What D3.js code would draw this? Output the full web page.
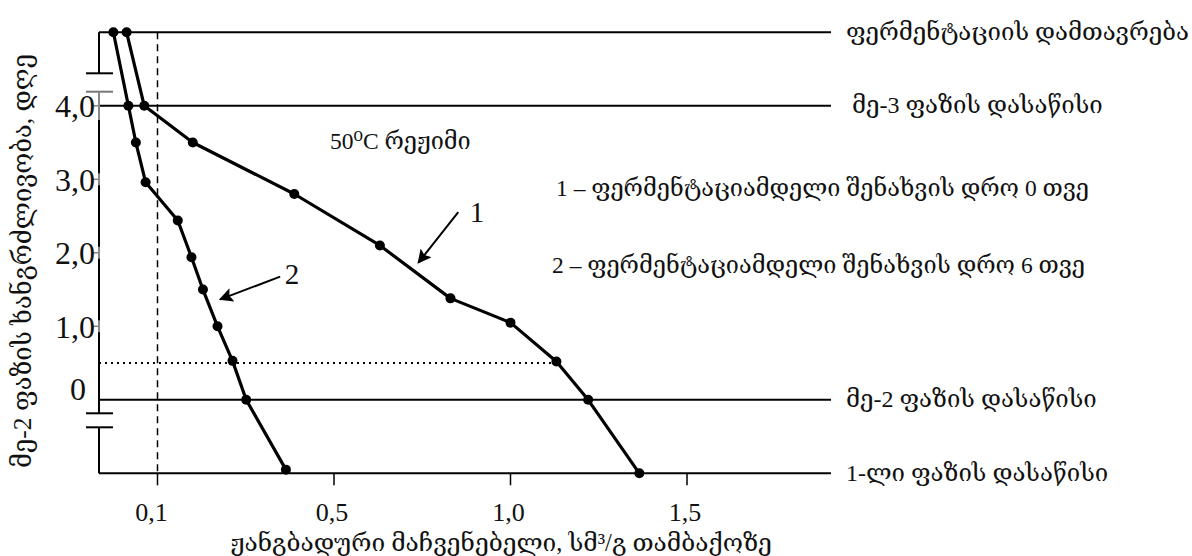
<!DOCTYPE html>
<html><head><meta charset="utf-8">
<script src="https://cdn.jsdelivr.net/npm/d3@7"></script>
<style>
html,body{margin:0;padding:0;background:#fff;}
text{font-family:"Liberation Serif","DejaVu Serif",serif;fill:#111;}
</style></head>
<body>
<svg id="c" width="1192" height="556"></svg>
<script>
// ---- data ----
const xTickValues = [0.1, 0.5, 1.0, 1.5];
const xTickLabels = ["0,1", "0,5", "1,0", "1,5"];
const yTickValues = [4, 3, 2, 1, 0];
const yTickLabels = ["4,0", "3,0", "2,0", "1,0", "0"];

const series1X = [0.03, 0.07, 0.18, 0.41, 0.63, 0.83, 1.0, 1.13, 1.22, 1.365];
const series1Y = [5, 4, 3.5, 2.8, 2.1, 1.38, 1.05, 0.52, 0, -1];
const series2X = [0.0, 0.034, 0.051, 0.073, 0.146, 0.177, 0.203, 0.236, 0.27, 0.301, 0.391];
const series2Y = [5, 4, 3.5, 2.96, 2.44, 1.94, 1.5, 1.0, 0.53, 0, -0.95];

const phaseLevels = [5, 4, 0, -1];
const phaseLabels = ["ფერმენტაციის დამთავრება", "მე-3 ფაზის დასაწისი", "მე-2 ფაზის დასაწისი", "1-ლი ფაზის დასაწისი"];

const refX = 0.1;      // dashed vertical
const refY = 0.5;      // dotted horizontal
const refYEndX = 1.13;

const xTitle = "ჟანგბადური მაჩვენებელი, სმ³/გ თამბაქოზე";
const yTitle = "მე-2 ფაზის ხანგრძლივობა, დღე";
const regimeText = "50⁰C რეჟიმი";
const legendTexts = ["1 –  ფერმენტაციამდელი შენახვის დრო 0 თვე", "2 –  ფერმენტაციამდელი შენახვის დრო 6 თვე"];

(function(){
// ---- layout ----
const svg = d3.select("#c");
const pL = 99, pR = 831, pT = 32.3, pB = 473.3;
const step = 176.5, x0 = 157.5;
const x = d3.scaleLinear().domain(xTickValues).range(xTickValues.map((d,i)=>x0+i*step));
const y = d3.scaleLinear().domain([-1, 5]).range([pB, pT]);

// phase lines
phaseLevels.forEach((lv,i)=>{
  svg.append("line").attr("x1",pL).attr("x2",pR).attr("y1",y(lv)).attr("y2",y(lv))
    .attr("stroke","#000").attr("stroke-width",2);
  svg.append("text").attr("x", i===1 ? 852 : 846).attr("y",y(lv)).attr("dy","0.3em")
    .attr("font-size",24).text(phaseLabels[i]);
});

// broken y axis
const axisSegs = [[pT, 73.3],[91.7, 413.3],[427.3, pB]];
axisSegs.forEach(s=>{
  svg.append("line").attr("x1",pL).attr("x2",pL).attr("y1",s[0]).attr("y2",s[1])
    .attr("stroke","#000").attr("stroke-width",2);
});
[73.3, 91.7, 413.3, 427.3].forEach((yy,i)=>{
  svg.append("line").attr("x1",86).attr("x2",113).attr("y1",yy).attr("y2",yy)
    .attr("stroke", i===1 ? "#777" : "#000").attr("stroke-width",2);
});
svg.append("line").attr("x1",pL).attr("x2",pL).attr("y1",91.7).attr("y2",120)
  .attr("stroke","#888").attr("stroke-width",2);
yTickValues.slice(0,4).forEach(v=>{
  svg.append("line").attr("x1",pL).attr("x2",pL).attr("y1",y(v)-6).attr("y2",y(v)+6)
    .attr("stroke","#888").attr("stroke-width",2);
  svg.append("line").attr("x1",93).attr("x2",pL).attr("y1",y(v)).attr("y2",y(v))
    .attr("stroke","#888").attr("stroke-width",1.5);
});
yTickValues.forEach((v,i)=>{
  svg.append("text").attr("x", v===0 ? 86 : 95).attr("y", v===0 ? y(v)-11 : y(v))
    .attr("dy","0.35em").attr("text-anchor","end").attr("font-size",32).text(yTickLabels[i]);
});

// x ticks
xTickValues.forEach((v,i)=>{
  svg.append("line").attr("x1",x(v)).attr("x2",x(v)).attr("y1",pB).attr("y2",pB+12)
    .attr("stroke","#000").attr("stroke-width",1.5);
  svg.append("text").attr("x",x(v)-(i===0?6:2)).attr("y",521).attr("text-anchor","middle")
    .attr("font-size",26).text(xTickLabels[i]);
});

// reference lines
svg.append("line").attr("x1",x(refX)).attr("x2",x(refX)).attr("y1",pT).attr("y2",pB)
  .attr("stroke","#000").attr("stroke-width",1.5).attr("stroke-dasharray","7,5");
svg.append("line").attr("x1",pL).attr("x2",x(refYEndX)).attr("y1",y(refY)).attr("y2",y(refY))
  .attr("stroke","#000").attr("stroke-width",2).attr("stroke-dasharray","2,4");

// series
const line = d3.line().x(d=>x(d[0])).y(d=>y(d[1]));
[[series1X,series1Y],[series2X,series2Y]].forEach(([xs,ys])=>{
  const pts = xs.map((v,i)=>[v, ys[i]]);
  svg.append("path").attr("d",line(pts)).attr("fill","none").attr("stroke","#000")
    .attr("stroke-width",3.2).attr("stroke-linejoin","round");
  svg.selectAll(null).data(pts).enter().append("circle")
    .attr("cx",d=>x(d[0])).attr("cy",d=>y(d[1])).attr("r",5).attr("fill","#000");
});

// arrows
const defs = svg.append("defs");
defs.append("marker").attr("id","ah").attr("viewBox","0 0 10 10").attr("refX",9).attr("refY",5)
  .attr("markerWidth",18).attr("markerHeight",14).attr("orient","auto").attr("markerUnits","userSpaceOnUse")
  .append("path").attr("d","M0,0 L10,5 L0,10 L2,5 z").attr("fill","#000");
const arrows = [
  {from:[0.852,2.555], to:[0.739,1.865], label:"1", lab:[0.905,2.42]},
  {from:[0.378,1.675], to:[0.242,1.367], label:"2", lab:[0.405,1.58]}
];
arrows.forEach(a=>{
  svg.append("line").attr("x1",x(a.from[0])).attr("y1",y(a.from[1]))
    .attr("x2",x(a.to[0])).attr("y2",y(a.to[1]))
    .attr("stroke","#000").attr("stroke-width",2).attr("marker-end","url(#ah)");
  svg.append("text").attr("x",x(a.lab[0])).attr("y",y(a.lab[1])).attr("text-anchor","middle")
    .attr("font-size",29).text(a.label);
});

// texts
svg.append("text").attr("x",330).attr("y",149).attr("font-size",23.5).text(regimeText);
svg.append("text").attr("x",556).attr("y",196).attr("font-size",23.5).text(legendTexts[0]);
svg.append("text").attr("x",552).attr("y",273).attr("font-size",23.5).text(legendTexts[1]);

svg.append("text").attr("x",501).attr("y",551).attr("text-anchor","middle").attr("font-size",24.5).text(xTitle);
svg.append("text").attr("transform","translate(31,261) rotate(-90)").attr("text-anchor","middle")
  .attr("font-size",25.5).text(yTitle);
})();
</script>
</body></html>
